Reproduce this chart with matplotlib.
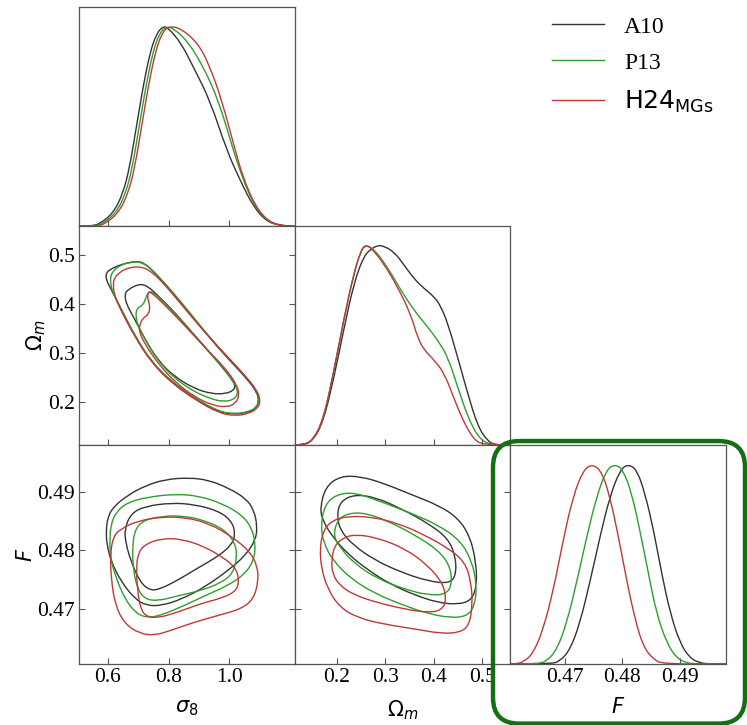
import matplotlib
matplotlib.use("Agg")
import matplotlib.pyplot as plt
from matplotlib.patches import FancyBboxPatch, PathPatch
from matplotlib.path import Path
from matplotlib.lines import Line2D

plt.rcParams["font.family"] = "serif"
plt.rcParams["font.serif"] = ["Liberation Serif", "DejaVu Serif"]
plt.rcParams["mathtext.fontset"] = "dejavusans"

# models and colours
models = ["A10", "P13", r"$\mathrm{H24}_{\mathrm{MGs}}$"]
colors = ["#333333", "#2e9e2e", "#c03838"]

# axis settings
sig8_ticks = [0.6, 0.8, 1.0]
om_ticks = [0.2, 0.3, 0.4, 0.5]
f_ticks = [0.47, 0.48, 0.49]
sig8_lim = (0.505, 1.215)
om_lim = (0.113, 0.558)
f_lim = (0.4605, 0.498)
labels = [r"$\sigma_8$", r"$\Omega_m$", r"$F$"]

# 1D marginals (normalised to peak = 1)
a10_sig8_x = [0.505, 0.53, 0.55, 0.572, 0.617, 0.650, 0.672, 0.694, 0.716, 0.738, 0.760, 0.782, 0.80,
              0.842, 0.881, 0.936, 0.991, 1.035, 1.079, 1.123, 1.168, 1.21, 1.215]
a10_sig8_p = [0, 0, 0.002, 0.01, 0.063, 0.163, 0.297, 0.497, 0.697, 0.863, 0.963, 1.0, 0.99,
              0.913, 0.797, 0.63, 0.38, 0.23, 0.097, 0.022, 0.002, 0, 0]
p13_sig8_x = [0.505, 0.54, 0.56, 0.581, 0.626, 0.659, 0.681, 0.703, 0.725, 0.747, 0.769, 0.793, 0.82,
              0.865, 0.914, 0.964, 1.013, 1.041, 1.079, 1.123, 1.168, 1.21, 1.215]
p13_sig8_p = [0, 0, 0.002, 0.01, 0.063, 0.163, 0.297, 0.497, 0.697, 0.863, 0.963, 1.0, 0.985,
              0.92, 0.797, 0.63, 0.38, 0.25, 0.11, 0.025, 0.002, 0, 0]
h24_sig8_x = [0.505, 0.55, 0.57, 0.589, 0.634, 0.667, 0.689, 0.711, 0.733, 0.755, 0.777, 0.80, 0.84,
              0.898, 0.936, 0.975, 1.019, 1.046, 1.085, 1.129, 1.173, 1.21, 1.215]
h24_sig8_p = [0, 0, 0.002, 0.01, 0.063, 0.163, 0.297, 0.497, 0.697, 0.863, 0.963, 1.0, 0.99,
              0.913, 0.797, 0.63, 0.38, 0.24, 0.10, 0.022, 0.002, 0, 0]

a10_om_x = [0.113, 0.131, 0.151, 0.172, 0.193, 0.214, 0.235, 0.255, 0.269, 0.285, 0.297, 0.318, 0.339,
            0.359, 0.380, 0.401, 0.415, 0.429, 0.449, 0.470, 0.491, 0.512, 0.529, 0.558]
a10_om_p = [0, 0, 0.022, 0.117, 0.325, 0.575, 0.808, 0.942, 0.978, 1.0, 0.995, 0.967, 0.90,
            0.833, 0.783, 0.742, 0.692, 0.608, 0.442, 0.258, 0.092, 0.017, 0, 0]
p13_om_x = [0.113, 0.131, 0.151, 0.172, 0.193, 0.214, 0.235, 0.249, 0.259, 0.276, 0.304, 0.332, 0.359,
            0.387, 0.408, 0.429, 0.449, 0.470, 0.491, 0.512, 0.558]
p13_om_p = [0, 0, 0.025, 0.125, 0.358, 0.625, 0.858, 0.967, 1.0, 0.983, 0.892, 0.775, 0.675,
            0.592, 0.525, 0.442, 0.292, 0.142, 0.042, 0.003, 0]
h24_om_x = [0.113, 0.131, 0.151, 0.172, 0.193, 0.214, 0.235, 0.249, 0.257, 0.269, 0.297, 0.325, 0.352,
            0.366, 0.380, 0.401, 0.422, 0.443, 0.463, 0.484, 0.501, 0.558]
h24_om_p = [0, 0, 0.025, 0.125, 0.358, 0.625, 0.858, 0.967, 1.0, 0.992, 0.908, 0.792, 0.658,
            0.542, 0.475, 0.425, 0.358, 0.225, 0.108, 0.025, 0.003, 0]

a10_f_x = [0.4605, 0.4674, 0.4691, 0.4709, 0.4726, 0.4743, 0.4761, 0.4778, 0.4796, 0.4810, 0.4825,
           0.4839, 0.4854, 0.4868, 0.4883, 0.4900, 0.4917, 0.4935, 0.4952, 0.498]
a10_f_p = [0, 0, 0.013, 0.072, 0.205, 0.405, 0.638, 0.838, 0.972, 1.0, 0.972,
           0.855, 0.672, 0.455, 0.255, 0.105, 0.03, 0.005, 0, 0]
p13_f_x = [0.4605, 0.4651, 0.4668, 0.4686, 0.4703, 0.4720, 0.4738, 0.4755, 0.4772, 0.4787, 0.4801,
           0.4816, 0.4830, 0.4845, 0.4859, 0.4877, 0.4894, 0.4912, 0.4929, 0.498]
p13_f_p = [0, 0, 0.013, 0.072, 0.205, 0.405, 0.638, 0.838, 0.972, 1.0, 0.972,
           0.855, 0.672, 0.455, 0.255, 0.105, 0.03, 0.005, 0, 0]
h24_f_x = [0.4605, 0.4613, 0.4628, 0.4645, 0.4662, 0.4680, 0.4697, 0.4714, 0.4732, 0.4748, 0.4764,
           0.4778, 0.4793, 0.4807, 0.4822, 0.4836, 0.4854, 0.4871, 0.498]
h24_f_p = [0, 0, 0.01, 0.055, 0.172, 0.372, 0.622, 0.838, 0.972, 1.0, 0.963,
           0.838, 0.638, 0.422, 0.222, 0.088, 0.022, 0, 0]

# 2D contours (68% inner, 95% outer), traced as (x, y) points
a10_s8om_outer = [(0.594, 0.463), (0.611, 0.471), (0.644, 0.480), (0.694, 0.487), (0.722, 0.482),
                  (0.755, 0.463), (0.799, 0.433), (0.854, 0.392), (0.920, 0.342), (0.987, 0.294),
                  (1.053, 0.251), (1.092, 0.220), (1.097, 0.200), (1.086, 0.187), (1.064, 0.180),
                  (1.020, 0.175), (0.965, 0.180), (0.887, 0.207), (0.810, 0.241), (0.744, 0.281),
                  (0.688, 0.335), (0.644, 0.389), (0.611, 0.429), (0.594, 0.449)]
p13_s8om_outer = [(0.609, 0.456), (0.617, 0.466), (0.639, 0.478), (0.677, 0.485), (0.711, 0.485),
                  (0.744, 0.470), (0.799, 0.434), (0.854, 0.394), (0.920, 0.343), (0.987, 0.296),
                  (1.053, 0.253), (1.092, 0.222), (1.099, 0.201), (1.086, 0.188), (1.064, 0.181),
                  (1.020, 0.176), (0.965, 0.181), (0.887, 0.208), (0.810, 0.242), (0.744, 0.282),
                  (0.688, 0.336), (0.644, 0.389), (0.617, 0.422), (0.609, 0.439)]
h24_s8om_outer = [(0.617, 0.439), (0.622, 0.453), (0.639, 0.464), (0.666, 0.473), (0.705, 0.476),
                  (0.738, 0.468), (0.777, 0.446), (0.832, 0.406), (0.898, 0.357), (0.965, 0.311),
                  (1.042, 0.261), (1.092, 0.224), (1.103, 0.201), (1.092, 0.187), (1.064, 0.177),
                  (1.020, 0.172), (0.965, 0.178), (0.887, 0.205), (0.810, 0.239), (0.744, 0.280),
                  (0.688, 0.334), (0.644, 0.385), (0.622, 0.416)]
a10_s8om_inner = [(0.655, 0.419), (0.666, 0.429), (0.705, 0.441), (0.733, 0.435), (0.766, 0.416),
                  (0.821, 0.382), (0.887, 0.335), (0.954, 0.288), (1.003, 0.251), (1.020, 0.234),
                  (1.014, 0.224), (0.987, 0.217), (0.943, 0.217), (0.887, 0.227), (0.821, 0.251),
                  (0.766, 0.284), (0.722, 0.328), (0.688, 0.369), (0.661, 0.399)]
p13_s8om_inner = [(0.691, 0.377), (0.697, 0.392), (0.716, 0.397), (0.725, 0.412), (0.735, 0.426),
                  (0.752, 0.422), (0.788, 0.401), (0.854, 0.358), (0.920, 0.311), (0.987, 0.264),
                  (1.022, 0.234), (1.029, 0.217), (1.014, 0.205), (0.981, 0.201), (0.937, 0.207),
                  (0.876, 0.224), (0.815, 0.251), (0.760, 0.288), (0.722, 0.328), (0.699, 0.355)]
h24_s8om_inner = [(0.733, 0.425), (0.749, 0.420), (0.793, 0.394), (0.854, 0.355), (0.920, 0.311),
                  (0.987, 0.269), (1.025, 0.235), (1.033, 0.214), (1.020, 0.197), (0.992, 0.190),
                  (0.948, 0.193), (0.887, 0.210), (0.821, 0.241), (0.766, 0.278), (0.722, 0.318),
                  (0.703, 0.343), (0.705, 0.358), (0.716, 0.371), (0.735, 0.379), (0.739, 0.396),
                  (0.730, 0.412)]

a10_s8f_outer = [(0.594, 0.4832), (0.600, 0.4858), (0.622, 0.4876), (0.666, 0.4894), (0.722, 0.4910),
                 (0.788, 0.4921), (0.865, 0.4924), (0.932, 0.4920), (0.998, 0.4906), (1.053, 0.4889),
                 (1.081, 0.4869), (1.092, 0.4840), (1.086, 0.4817), (1.053, 0.4791), (0.998, 0.4766),
                 (0.920, 0.4737), (0.843, 0.4716), (0.777, 0.4705), (0.727, 0.4705), (0.688, 0.4717),
                 (0.644, 0.4746), (0.611, 0.4780), (0.597, 0.4809)]
a10_s8f_inner = [(0.655, 0.4837), (0.677, 0.4863), (0.722, 0.4875), (0.810, 0.4881), (0.887, 0.4878),
                 (0.965, 0.4867), (1.007, 0.4850), (1.020, 0.4829), (1.009, 0.4810), (0.965, 0.4790),
                 (0.898, 0.4770), (0.832, 0.4749), (0.771, 0.4733), (0.738, 0.4731), (0.705, 0.4746),
                 (0.677, 0.4780), (0.659, 0.4811)]
p13_s8f_outer = [(0.606, 0.4809), (0.609, 0.4843), (0.628, 0.4866), (0.666, 0.4882), (0.733, 0.4891),
                 (0.821, 0.4896), (0.898, 0.4893), (0.976, 0.4880), (1.042, 0.4860), (1.075, 0.4837),
                 (1.086, 0.4809), (1.081, 0.4783), (1.053, 0.4760), (0.998, 0.4740), (0.920, 0.4722),
                 (0.843, 0.4703), (0.777, 0.4689), (0.733, 0.4684), (0.694, 0.4691), (0.655, 0.4717),
                 (0.624, 0.4757), (0.609, 0.4786)]
p13_s8f_inner = [(0.681, 0.4803), (0.688, 0.4834), (0.716, 0.4851), (0.777, 0.4858), (0.843, 0.4859),
                 (0.920, 0.4851), (0.987, 0.4834), (1.020, 0.4811), (1.025, 0.4786), (1.011, 0.4760),
                 (0.976, 0.4745), (0.909, 0.4731), (0.832, 0.4722), (0.766, 0.4713), (0.722, 0.4716),
                 (0.697, 0.4734), (0.683, 0.4769)]
h24_s8f_outer = [(0.608, 0.4791), (0.617, 0.4823), (0.644, 0.4837), (0.699, 0.4850), (0.777, 0.4857),
                 (0.854, 0.4856), (0.932, 0.4846), (1.009, 0.4823), (1.069, 0.4797), (1.093, 0.4771),
                 (1.095, 0.4746), (1.080, 0.4717), (1.042, 0.4700), (0.976, 0.4690), (0.887, 0.4677),
                 (0.810, 0.4663), (0.755, 0.4654), (0.705, 0.4657), (0.655, 0.4674), (0.624, 0.4706),
                 (0.611, 0.4751)]
h24_s8f_inner = [(0.694, 0.4769), (0.699, 0.4794), (0.722, 0.4810), (0.777, 0.4820), (0.843, 0.4819),
                 (0.914, 0.4807), (0.981, 0.4787), (1.022, 0.4769), (1.033, 0.4746), (1.020, 0.4729),
                 (0.976, 0.4718), (0.909, 0.4709), (0.832, 0.4694), (0.766, 0.4684), (0.727, 0.4686),
                 (0.707, 0.4700), (0.697, 0.4734)]

a10_omf_outer = [(0.165, 0.4871), (0.177, 0.4909), (0.208, 0.4927), (0.250, 0.4926), (0.298, 0.4914),
                 (0.354, 0.4895), (0.409, 0.4877), (0.450, 0.4855), (0.475, 0.4823), (0.487, 0.4780),
                 (0.489, 0.4740), (0.478, 0.4714), (0.450, 0.4707), (0.409, 0.4710), (0.361, 0.4723),
                 (0.312, 0.4741), (0.264, 0.4766), (0.222, 0.4794), (0.191, 0.4823), (0.172, 0.4849)]
a10_omf_inner = [(0.200, 0.4860), (0.208, 0.4884), (0.236, 0.4895), (0.278, 0.4891), (0.333, 0.4871),
                 (0.388, 0.4846), (0.430, 0.4820), (0.446, 0.4786), (0.445, 0.4754), (0.430, 0.4743),
                 (0.388, 0.4747), (0.333, 0.4762), (0.278, 0.4783), (0.233, 0.4809), (0.207, 0.4834)]
p13_omf_outer = [(0.167, 0.4843), (0.175, 0.4877), (0.198, 0.4895), (0.236, 0.4899), (0.291, 0.4883),
                 (0.354, 0.4863), (0.409, 0.4843), (0.454, 0.4817), (0.478, 0.4783), (0.489, 0.4740),
                 (0.484, 0.4703), (0.468, 0.4687), (0.437, 0.4684), (0.388, 0.4691), (0.333, 0.4707),
                 (0.278, 0.4726), (0.229, 0.4751), (0.191, 0.4783), (0.172, 0.4814)]
p13_omf_inner = [(0.193, 0.4826), (0.201, 0.4851), (0.222, 0.4863), (0.257, 0.4864), (0.305, 0.4850),
                 (0.361, 0.4826), (0.409, 0.4800), (0.433, 0.4774), (0.438, 0.4743), (0.426, 0.4724),
                 (0.388, 0.4723), (0.340, 0.4733), (0.284, 0.4751), (0.236, 0.4777), (0.205, 0.4806)]
h24_omf_outer = [(0.165, 0.4803), (0.172, 0.4834), (0.191, 0.4851), (0.222, 0.4858), (0.271, 0.4857),
                 (0.326, 0.4846), (0.381, 0.4826), (0.430, 0.4803), (0.464, 0.4780), (0.477, 0.4746),
                 (0.480, 0.4706), (0.473, 0.4671), (0.454, 0.4659), (0.416, 0.4657), (0.361, 0.4665),
                 (0.298, 0.4673), (0.243, 0.4684), (0.205, 0.4703), (0.181, 0.4734), (0.168, 0.4769)]
h24_omf_inner = [(0.189, 0.4780), (0.194, 0.4806), (0.212, 0.4821), (0.239, 0.4827), (0.284, 0.4821),
                 (0.340, 0.4803), (0.388, 0.4774), (0.419, 0.4743), (0.426, 0.4714), (0.416, 0.4697),
                 (0.388, 0.4693), (0.340, 0.4699), (0.284, 0.4710), (0.236, 0.4723), (0.205, 0.4740),
                 (0.191, 0.4760)]

marginals = [
    [(a10_sig8_x, a10_sig8_p), (p13_sig8_x, p13_sig8_p), (h24_sig8_x, h24_sig8_p)],
    [(a10_om_x, a10_om_p), (p13_om_x, p13_om_p), (h24_om_x, h24_om_p)],
    [(a10_f_x, a10_f_p), (p13_f_x, p13_f_p), (h24_f_x, h24_f_p)],
]
contours = {
    (1, 0): [(a10_s8om_outer, a10_s8om_inner), (p13_s8om_outer, p13_s8om_inner),
             (h24_s8om_outer, h24_s8om_inner)],
    (2, 0): [(a10_s8f_outer, a10_s8f_inner), (p13_s8f_outer, p13_s8f_inner),
             (h24_s8f_outer, h24_s8f_inner)],
    (2, 1): [(a10_omf_outer, a10_omf_inner), (p13_omf_outer, p13_omf_inner),
             (h24_omf_outer, h24_omf_inner)],
}
lims = [sig8_lim, om_lim, f_lim]
ticks = [sig8_ticks, om_ticks, f_ticks]


def smooth_path(pts, closed):
    """Quadratic-Bezier path that uses the traced points as control points"""
    mid = lambda a, b: ((a[0] + b[0]) / 2, (a[1] + b[1]) / 2)
    n = len(pts)
    if closed:
        verts = [mid(pts[-1], pts[0])]
        codes = [Path.MOVETO]
        for k in range(n):
            verts += [pts[k], mid(pts[k], pts[(k + 1) % n])]
            codes += [Path.CURVE3, Path.CURVE3]
    else:
        verts = [pts[0]]
        codes = [Path.MOVETO]
        for k in range(1, n - 1):
            verts += [pts[k], mid(pts[k], pts[k + 1])]
            codes += [Path.CURVE3, Path.CURVE3]
        verts.append(pts[-1])
        codes.append(Path.LINETO)
    return Path(verts, codes)


fig, axes = plt.subplots(3, 3, figsize=(7.47, 7.25), dpi=100)
fig.subplots_adjust(left=79 / 747, right=726 / 747, top=1 - 7 / 725, bottom=1 - 664 / 725,
                    wspace=0, hspace=0)

spine_col = "#555555"
for i in range(3):
    for j in range(3):
        ax = axes[i, j]
        if j > i:
            ax.axis("off")
            continue
        for s in ax.spines.values():
            s.set_color(spine_col)
            s.set_linewidth(0.9)
        ax.set_xlim(lims[j])
        ax.set_xticks(ticks[j])
        ax.tick_params(direction="in", length=4.5, width=0.8, color=spine_col,
                       labelsize=15.5, pad=3)
        if i == j:
            for (x, p), c in zip(marginals[i], colors):
                path = smooth_path(list(zip(x, p)), closed=False)
                ax.add_patch(PathPatch(path, fill=False, edgecolor=c, lw=1.0))
            ax.set_ylim(0, 1.096)
            ax.tick_params(left=False, labelleft=False)
        else:
            for (outer, inner), c in zip(contours[(i, j)], colors):
                for pts in (outer, inner):
                    ax.add_patch(PathPatch(smooth_path(pts, closed=True), fill=False,
                                           edgecolor=c, lw=1.0))
            ax.set_ylim(lims[i])
            ax.set_yticks(ticks[i])
            ax.tick_params(right=True, labelright=False)
            if j == 0:
                ax.set_ylabel(labels[i], fontsize=15, labelpad=0)
            else:
                ax.tick_params(labelleft=False)
        if i == 2:
            ax.set_xlabel(labels[j], fontsize=15, labelpad=8)
        else:
            ax.tick_params(labelbottom=False)

# legend
handles = [Line2D([], [], color=c, lw=1.0) for c in colors]
leg = fig.legend(handles, models, loc="upper left", bbox_to_anchor=(552 / 747, 1 - 16 / 725),
                 frameon=False, fontsize=17, handlelength=2.2, handletextpad=0.85,
                 labelspacing=0.62, borderpad=0, borderaxespad=0)
leg.get_texts()[2].set_fontsize(18)

# highlight box around the F marginal
box = FancyBboxPatch((493 / 747 + 0.035, 0.003 + 0.035), (745 - 493) / 747 - 0.07,
                     (723 - 442) / 725 - 0.07,
                     boxstyle="round,pad=0.035", transform=fig.transFigure,
                     fill=False, edgecolor="#127012", linewidth=3.2, zorder=10,
                     mutation_aspect=747 / 725)
fig.add_artist(box)

fig.savefig("out.png", dpi=100)
